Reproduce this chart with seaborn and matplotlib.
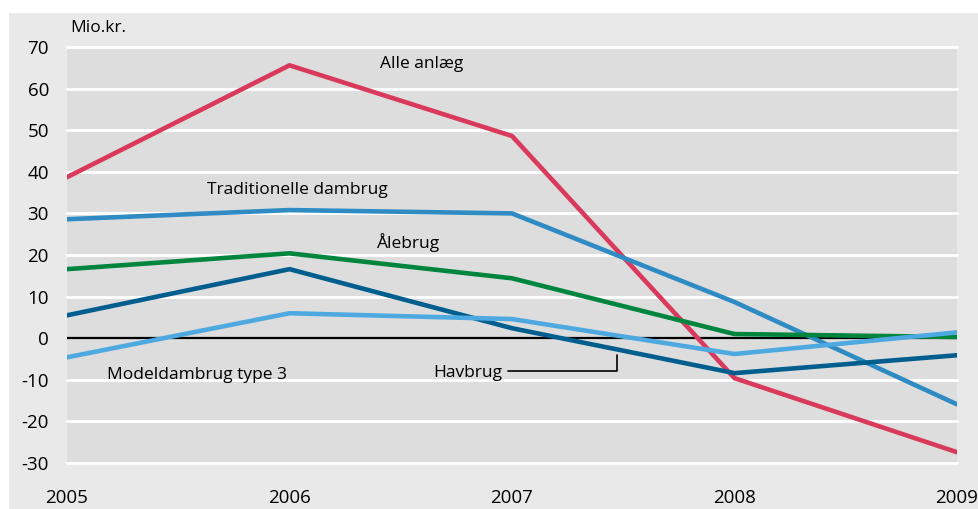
import numpy as np
import pandas as pd
import matplotlib.pyplot as plt
import seaborn as sns
from matplotlib.patches import Rectangle

years = [2005, 2006, 2007, 2008, 2009]
alle_anlaeg = [38.7, 65.6, 48.6, -9.6, -27.4]
traditionelle = [28.6, 30.8, 30.0, 8.7, -15.9]
aalebrug = [16.6, 20.4, 14.4, 1.0, 0.3]
havbrug = [5.5, 16.6, 2.4, -8.4, -4.1]
modeldambrug = [-4.6, 6.0, 4.6, -3.8, 1.4]

series = ["Alle anlæg", "Traditionelle dambrug", "Ålebrug", "Havbrug", "Modeldambrug type 3"]
colors = ["#d93a5c", "#2e8bc4", "#00853f", "#005e8e", "#4ea9e1"]
yticks = [-30, -20, -10, 0, 10, 20, 30, 40, 50, 60, 70]

df = pd.DataFrame({
    "year": years * 5,
    "value": alle_anlaeg + traditionelle + aalebrug + havbrug + modeldambrug,
    "series": [s for s in series for _ in years],
})

sns.set_style("white", {"text.color": "black", "xtick.color": "black", "ytick.color": "black"})
plt.rcParams['font.family'] = ['Open Sans', 'DejaVu Sans']
plt.rcParams['axes.unicode_minus'] = False

W, H = 979, 509
fig = plt.figure(figsize=(W / 100, H / 100), dpi=100)
fig.patch.set_facecolor("white")
bg = Rectangle((9 / W, 0), 1 - 9 / W, (H - 13) / H, transform=fig.transFigure,
               facecolor="#e9e9e9", edgecolor="none", zorder=-10)
fig.add_artist(bg)
ax = fig.add_axes([67 / W, (H - 463) / H, (957 - 67) / W, (463 - 47) / H])
ax.set_facecolor("#dddddd")

for y in yticks:
    if y != 0:
        ax.axhline(y, color="white", lw=2, zorder=1, clip_on=False)
ax.axhline(0, color="black", lw=1.6, zorder=2)

sns.lineplot(data=df, x="year", y="value", hue="series", palette=dict(zip(series, colors)),
             linewidth=3.3, legend=False, ax=ax, zorder=3)

ax.set_xlim(2005, 2009)
ax.set_ylim(-30, 70)
ax.set_xticks(years)
ax.set_yticks(yticks)
ax.tick_params(axis="both", length=0, labelsize=13.5, labelcolor="black")
ax.tick_params(axis="y", pad=13)
ax.tick_params(axis="x", pad=19)
for s in ax.spines.values():
    s.set_visible(False)
ax.set_xlabel("")
ax.set_ylabel("")

fig.text(70 / W, 1 - 28 / H, "Mio.kr.", fontsize=12.5, va="center", ha="left", color="black")

lab = dict(fontsize=12.5, va="center", ha="left", zorder=5, color="black")
ax.text(2005 + (380 - 67) / 222.5, 66, "Alle anlæg", **lab)
ax.text(2005 + (207 - 67) / 222.5, 35.7, "Traditionelle dambrug", **lab)
ax.text(2005 + (377 - 67) / 222.5, 23, "Ålebrug", **lab)
ax.text(2005 + (107 - 67) / 222.5, -8.9, "Modeldambrug type 3", **lab)
ax.text(2005 + (433 - 67) / 222.5, -8.4, "Havbrug", **lab)
lx0 = 2005 + (508 - 67) / 222.5
lx1 = 2005 + (617 - 67) / 222.5
ax.plot([lx0, lx1, lx1], [-8.0, -8.0, -4.0], color="black", lw=1.2, zorder=5)

fig.savefig("out.png", dpi=100)
